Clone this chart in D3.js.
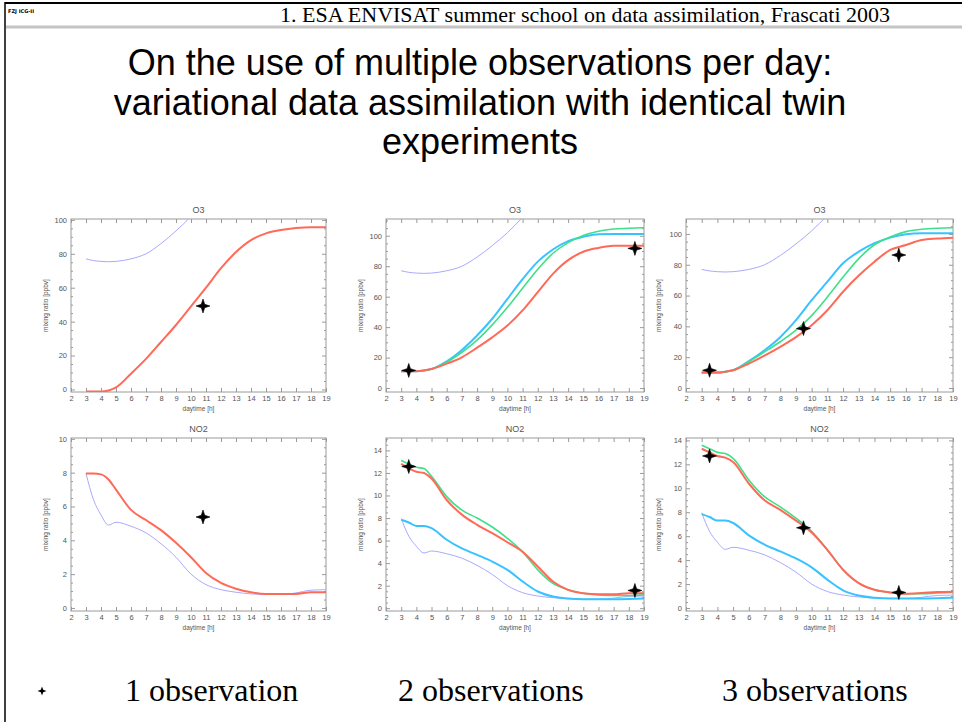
<!DOCTYPE html>
<html>
<head>
<meta charset="utf-8">
<script src="https://cdn.jsdelivr.net/npm/d3@7"></script>
<style>
  body { margin: 0; background: #fff; }
  svg { display: block; }
</style>
</head>
<body>
<div id="slide"></div>
<script>
const width = 963;
const height = 722;

// hours of the model output
const hours = [3, 3.5, 4, 4.5, 5, 6, 7, 8, 9, 10, 11, 12, 13, 14, 15, 16, 17, 18, 19];

// O3 [ppbv]
const o3Background = [77, 76, 75.5, 75.3, 75.5, 77, 80, 86, 93.5, 102, 112, 122, null, null, null, null, null, null, null];
const o3Run1 = [-1.2, -1.2, -1.2, -0.6, 1.2, 9.3, 18, 28, 38, 49, 60, 71.5, 81, 88, 92, 94, 95.2, 95.7, 95.7];
const o3Run2Red = [11, 11, 11, 11.5, 12.5, 16, 20.2, 26.5, 33.3, 41, 51, 63, 75, 84, 89.5, 92, 93.4, 93.4, 93.4];
const o3Run2Green = [11, 11, 11, 11.5, 12.5, 17, 23.5, 31.5, 41.5, 53, 65.5, 78, 88.5, 95.5, 100.2, 103, 104.4, 104.9, 105.3];
const o3Run2Cyan = [11, 11, 11, 11.5, 12.5, 17.5, 25, 34.5, 45.5, 58.5, 71.5, 83, 91, 96.5, 99.3, 101, 101.1, 101.1, 101.1];
const o3Run3Red = [10, 10, 10, 10.6, 11.5, 15.8, 21, 26.7, 33, 40.8, 50.5, 62.5, 73, 82, 89.6, 92.8, 96, 97, 97.6];
const o3Run3Green = [10, 10, 10, 10.6, 11.5, 17, 23.4, 30, 37.5, 47, 59, 72, 84, 93, 98, 101.5, 103, 103.7, 104];
const o3Run3Cyan = [10, 10, 10, 10.6, 11.5, 17.4, 24.5, 33, 44, 57, 69, 81, 88.5, 94, 97.6, 99.8, 100.4, 100.4, 100.4];

// NO2 [ppbv]
const no2Background = [7.95, 6.4, 5.5, 4.9, 5.07, 4.83, 4.44, 3.8, 3.0, 2.0, 1.38, 1.08, 0.93, 0.83, 0.8, 0.8, 0.89, 1.05, 1.08];
const no2Run1 = [7.95, 7.95, 7.9, 7.6, 7.0, 5.8, 5.2, 4.6, 3.85, 3.0, 2.07, 1.48, 1.14, 0.93, 0.83, 0.83, 0.83, 0.93, 0.93];
const no2Cyan = [7.84, 7.6, 7.3, 7.3, 7.1, 6.07, 5.3, 4.73, 4.14, 3.4, 2.37, 1.48, 1.04, 0.86, 0.8, 0.8, 0.8, 0.82, 0.86];
const no2Run2Green = [13.1, 12.8, 12.5, 12.4, 11.7, 9.9, 8.7, 8.0, 7.2, 6.2, 5.0, 3.4, 2.2, 1.63, 1.33, 1.18, 1.12, 1.12, 1.18];
const no2Run2Red = [12.8, 12.4, 12.1, 12.0, 11.5, 9.6, 8.3, 7.4, 6.66, 5.85, 5.0, 3.7, 2.37, 1.63, 1.33, 1.24, 1.24, 1.33, 1.33];
const no2Run3Green = [13.6, 13.3, 13.0, 12.9, 12.5, 10.7, 9.3, 8.45, 7.5, 6.4, 4.85, 3.2, 2.08, 1.52, 1.3, 1.19, 1.19, 1.25, 1.3];
const no2Run3Red = [13.3, 13.0, 12.7, 12.56, 12.2, 10.4, 9.0, 8.2, 7.3, 6.3, 4.85, 3.2, 2.08, 1.52, 1.3, 1.19, 1.25, 1.33, 1.36];

// observations (hour, value)
const obs1Hours = [10.8];
const obs1O3 = [49.2];
const obs1NO2 = [5.38];
const obs2Hours = [3.5, 18.4];
const obs2O3 = [11.6, 91.7];
const obs2NO2 = [12.57, 1.57];
const obs3Hours = [3.5, 9.48, 15.55];
const obs3O3 = [11.5, 38.6, 86.3];
const obs3NO2 = [12.7, 6.7, 1.3];

const hourTicks = d3.range(2, 20);
const o3Ticks = [0, 20, 40, 60, 80, 100];
const no2Ticks1 = [0, 2, 4, 6, 8, 10];
const no2Ticks = [0, 2, 4, 6, 8, 10, 12, 14];
const legendLabels = ['1 observation', '2 observations', '3 observations'];
const titleLines = [
  'On the use of multiple observations per day:',
  'variational data assimilation with identical twin',
  'experiments'
];
const headerText = '1. ESA ENVISAT summer school on data assimilation, Frascati 2003';

const colors = {
  background: '#a9a9ff',
  red: '#ff6a58',
  green: '#3ee08a',
  cyan: '#38c2ff',
  frame: '#9a9a9a',
  text: '#555'
};

const cols = [[71, 326], [386, 644], [686, 953]];
const rows = [[219, 392], [438, 611]];

const panels = [
  { col: 0, row: 0, title: 'O3', domain: [-1.5, 100.5], ticks: o3Ticks, minor: 5,
    series: [[o3Background, 'background', 1], [o3Run1, 'red', 2]],
    obs: [obs1Hours, obs1O3] },
  { col: 1, row: 0, title: 'O3', domain: [-2.6, 111], ticks: o3Ticks, minor: 5,
    series: [[o3Background, 'background', 1], [o3Run2Cyan, 'cyan', 2], [o3Run2Green, 'green', 1.6], [o3Run2Red, 'red', 2]],
    obs: [obs2Hours, obs2O3] },
  { col: 2, row: 0, title: 'O3', domain: [-2.6, 109.7], ticks: o3Ticks, minor: 5,
    series: [[o3Background, 'background', 1], [o3Run3Cyan, 'cyan', 2], [o3Run3Green, 'green', 1.6], [o3Run3Red, 'red', 2]],
    obs: [obs3Hours, obs3O3] },
  { col: 0, row: 1, title: 'NO2', domain: [-0.18, 10.05], ticks: no2Ticks1, minor: 0.5,
    series: [[no2Background, 'background', 1], [no2Run1, 'red', 2]],
    obs: [obs1Hours, obs1NO2] },
  { col: 1, row: 1, title: 'NO2', domain: [-0.25, 15.1], ticks: no2Ticks, minor: 0.5,
    series: [[no2Background, 'background', 1], [no2Cyan, 'cyan', 2], [no2Run2Green, 'green', 1.6], [no2Run2Red, 'red', 2]],
    obs: [obs2Hours, obs2NO2] },
  { col: 2, row: 1, title: 'NO2', domain: [-0.25, 14.2], ticks: no2Ticks, minor: 0.5,
    series: [[no2Background, 'background', 1], [no2Cyan, 'cyan', 2], [no2Run3Green, 'green', 1.6], [no2Run3Red, 'red', 2]],
    obs: [obs3Hours, obs3NO2] }
];

const svg = d3.select('#slide').append('svg')
    .attr('width', width)
    .attr('height', height);

// slide frame and header
svg.append('line')
    .attr('x1', 5).attr('x2', 962).attr('y1', 3).attr('y2', 3)
    .attr('stroke', '#000').attr('stroke-width', 2);
svg.append('line')
    .attr('x1', 5).attr('x2', 5).attr('y1', 2).attr('y2', height)
    .attr('stroke', '#000').attr('stroke-width', 1.5);
svg.append('line')
    .attr('x1', 6).attr('x2', 962).attr('y1', 27).attr('y2', 27)
    .attr('stroke', '#c4c4c4').attr('stroke-width', 3);
svg.append('text')
    .attr('x', 8).attr('y', 13)
    .attr('font-family', 'DejaVu Sans')
    .attr('font-weight', 'bold')
    .attr('font-size', 5)
    .text('FZJ ICG-II');
svg.append('text')
    .attr('x', 890).attr('y', 21.5)
    .attr('text-anchor', 'end')
    .attr('font-family', '"Liberation Serif", serif')
    .attr('font-size', 22)
    .text(headerText);

svg.append('g')
    .attr('font-family', '"Liberation Sans", Arial, sans-serif')
    .attr('font-size', 36)
    .attr('text-anchor', 'middle')
  .selectAll('text')
  .data(titleLines)
  .join('text')
    .attr('x', 480)
    .attr('y', (d, i) => 75 + i * 39.5)
    .text(d => d);

const star = (r, w) => `M0,${-r}L${w},${-w}L${r},0L${w},${w}L0,${r}L${-w},${w}L${-r},0L${-w},${-w}Z`;

panels.forEach((p, idx) => {
  const [x0, x1] = cols[p.col];
  const [y0, y1] = rows[p.row];
  const x = d3.scaleLinear().domain([2, 19]).range([x0, x1]);
  const y = d3.scaleLinear().domain(p.domain).range([y1, y0]);
  const g = svg.append('g');

  const minorTicks = d3.range(0, p.domain[1], p.minor).filter(v => !p.ticks.includes(v));

  const styleAxis = sel => {
    sel.select('.domain').remove();
    sel.selectAll('line').attr('stroke', colors.frame);
    sel.selectAll('text')
        .attr('fill', colors.text)
        .attr('font-family', '"Liberation Sans", Arial, sans-serif')
        .attr('font-size', 7.5);
  };

  g.append('g').attr('transform', `translate(0,${y1})`)
      .call(d3.axisBottom(x).tickValues(hourTicks).tickSize(-4).tickPadding(4))
      .call(styleAxis);
  g.append('g').attr('transform', `translate(0,${y0})`)
      .call(d3.axisTop(x).tickValues(hourTicks).tickSize(-4).tickFormat(''))
      .call(styleAxis);
  g.append('g').attr('transform', `translate(${x0},0)`)
      .call(d3.axisLeft(y).tickValues(p.ticks).tickSize(-4).tickPadding(4))
      .call(styleAxis);
  g.append('g').attr('transform', `translate(${x0},0)`)
      .call(d3.axisLeft(y).tickValues(minorTicks).tickSize(-2).tickFormat(''))
      .call(styleAxis);
  g.append('g').attr('transform', `translate(${x1},0)`)
      .call(d3.axisRight(y).tickValues(p.ticks).tickSize(-4).tickFormat(''))
      .call(styleAxis);
  g.append('g').attr('transform', `translate(${x1},0)`)
      .call(d3.axisRight(y).tickValues(minorTicks).tickSize(-2).tickFormat(''))
      .call(styleAxis);

  g.append('rect')
      .attr('x', x0).attr('y', y0)
      .attr('width', x1 - x0).attr('height', y1 - y0)
      .attr('fill', 'none')
      .attr('stroke', colors.frame);

  g.append('text')
      .attr('x', (x0 + x1) / 2).attr('y', y0 - 6)
      .attr('text-anchor', 'middle')
      .attr('font-family', '"Liberation Sans", Arial, sans-serif')
      .attr('font-size', 9)
      .attr('fill', colors.text)
      .text(p.title);

  g.append('text')
      .attr('x', (x0 + x1) / 2).attr('y', y1 + 19)
      .attr('text-anchor', 'middle')
      .attr('font-family', '"Liberation Sans", Arial, sans-serif')
      .attr('font-size', 6.5)
      .attr('fill', colors.text)
      .text('daytime [h]');

  const ylabX = x0 - (p.col === 2 ? 25 : 23);
  g.append('text')
      .attr('transform', `translate(${ylabX},${(y0 + y1) / 2}) rotate(-90)`)
      .attr('text-anchor', 'middle')
      .attr('font-family', '"Liberation Sans", Arial, sans-serif')
      .attr('font-size', 6.5)
      .attr('fill', colors.text)
      .text('mixing ratio [ppbv]');

  const clipId = `clip${idx}`;
  g.append('clipPath').attr('id', clipId)
    .append('rect')
      .attr('x', x0).attr('y', y0)
      .attr('width', x1 - x0).attr('height', y1 - y0);

  const line = d3.line()
      .defined(d => d[1] !== null)
      .x(d => x(d[0]))
      .y(d => y(d[1]))
      .curve(d3.curveMonotoneX);

  g.append('g')
      .attr('clip-path', `url(#${clipId})`)
      .attr('fill', 'none')
    .selectAll('path')
    .data(p.series)
    .join('path')
      .attr('stroke', d => colors[d[1]])
      .attr('stroke-width', d => d[2])
      .attr('stroke-linejoin', 'round')
      .attr('d', d => line(hours.map((h, i) => [h, d[0][i]])));

  const [obsH, obsV] = p.obs;
  g.append('g')
    .selectAll('path')
    .data(obsH.map((h, i) => [h, obsV[i]]))
    .join('path')
      .attr('transform', d => `translate(${x(d[0])},${y(d[1])})`)
      .attr('d', star(7, 1.7))
      .attr('fill', '#000')
      .attr('stroke', '#000')
      .attr('stroke-width', 0.6);
});

// legend row
svg.append('path')
    .attr('transform', 'translate(42,691)')
    .attr('d', star(4.5, 1.2))
    .attr('fill', '#000');

svg.append('g')
    .attr('font-family', '"Liberation Serif", serif')
    .attr('font-size', 32)
  .selectAll('text')
  .data(legendLabels)
  .join('text')
    .attr('x', (d, i) => [125, 398, 722][i])
    .attr('y', 701)
    .text(d => d);
</script>
</body>
</html>
